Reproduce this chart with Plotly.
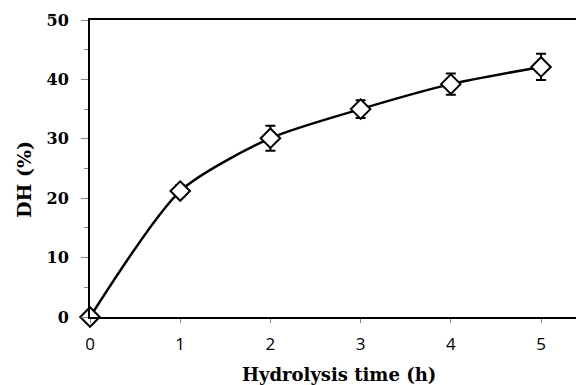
import plotly.graph_objects as go

time_h = [0, 1, 2, 3, 4, 5]
dh_pct = [0, 21.2, 30.1, 35.0, 39.2, 42.1]
dh_err = [0, 1.0, 2.1, 1.5, 1.8, 2.2]
x_ticks = [0, 1, 2, 3, 4, 5]
y_ticks = [0, 10, 20, 30, 40, 50]

fig = go.Figure()
fig.add_trace(go.Scatter(
    x=time_h, y=dh_pct,
    mode="lines+markers",
    line=dict(color="black", width=2.5, shape="spline", smoothing=0.7),
    marker=dict(symbol="diamond", size=15, color="white",
                line=dict(color="black", width=2)),
    error_y=dict(type="data", array=dh_err, visible=True,
                 color="black", thickness=2, width=5),
    cliponaxis=False,
    showlegend=False,
))

serif = "DejaVu Serif"
fig.update_layout(
    width=584, height=385,
    margin=dict(l=82, r=0, t=12, b=76),
    paper_bgcolor="white", plot_bgcolor="white",
    xaxis=dict(
        range=[0, 5.565], tickvals=x_ticks, ticktext=[str(v) for v in x_ticks],
        automargin=False,
        showgrid=False, zeroline=False,
        showline=True, linecolor="black", linewidth=2, mirror=True,
        ticks="outside", ticklen=4, tickcolor="#888", tickwidth=1,
        tickfont=dict(family="Open Sans", size=17, color="black"),
        ticklabelstandoff=7,
    ),
    yaxis=dict(
        range=[0, 50], tickvals=y_ticks,
        automargin=False,
        showgrid=False, zeroline=False,
        showline=True, linecolor="black", linewidth=2,
        ticks="outside", ticklen=7, tickcolor="#888", tickwidth=1,
        minor=dict(ticks="outside", ticklen=4, tickcolor="#888", dtick=5, tick0=0),
        tickfont=dict(family=serif, size=16, color="black", weight="bold"),
        ticklabelstandoff=9,
    ),
    annotations=[
        dict(text="Hydrolysis time (h)", xref="paper", yref="paper",
             x=0.496, y=0, yshift=-57, xanchor="center", yanchor="middle",
             showarrow=False,
             font=dict(family=serif, size=18, color="black", weight="bold")),
        dict(text="DH (%)", xref="paper", yref="paper",
             x=0, xshift=-66, y=0.461, xanchor="center", yanchor="middle",
             textangle=-90, showarrow=False,
             font=dict(family=serif, size=19, color="black", weight="bold")),
    ],
)
fig.write_html("out.html")
